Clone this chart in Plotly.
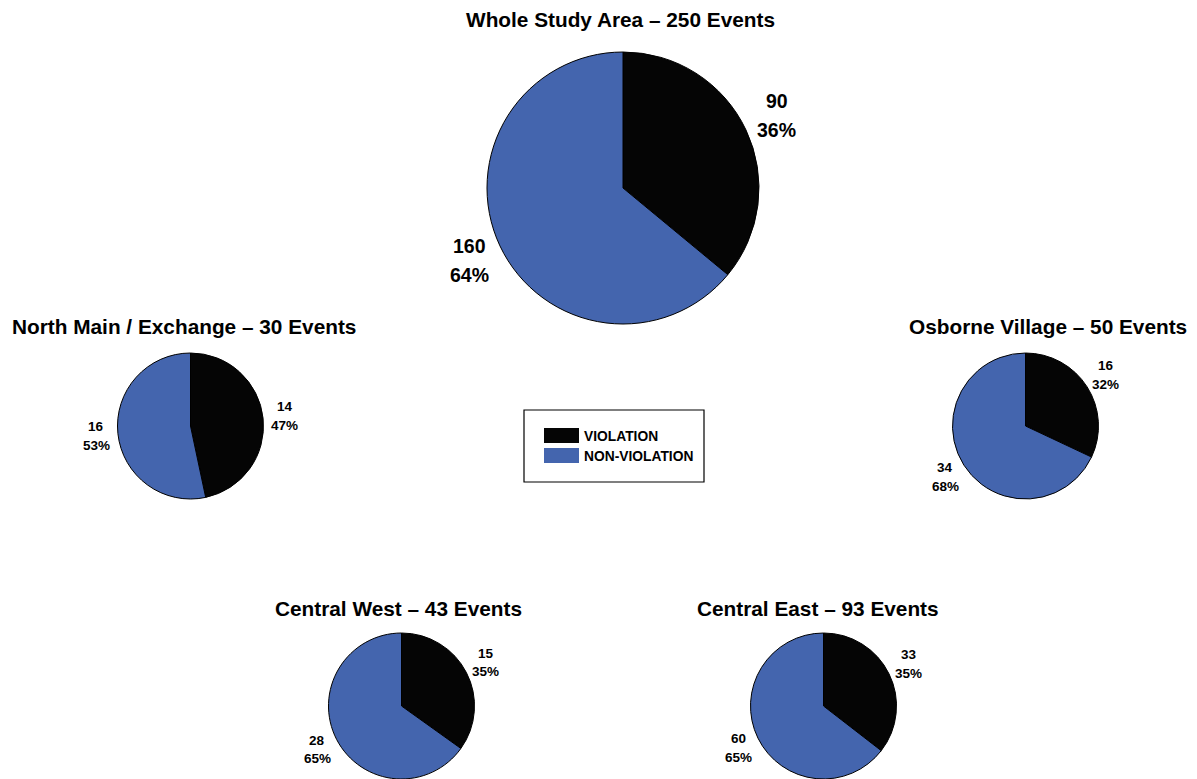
import math
import plotly.graph_objects as go

# Event counts by area
areas = ["Whole Study Area", "North Main / Exchange", "Osborne Village",
         "Central West", "Central East"]
violation = [90, 14, 16, 15, 33]
non_violation = [160, 16, 34, 28, 60]
categories = ["VIOLATION", "NON-VIOLATION"]

# Page geometry (pixels)
W, H = 1197, 779
pie_centers = [(623, 188), (190.5, 426), (1025.5, 426), (401.5, 706), (823.5, 706)]
pie_radii = [136, 73, 73, 73, 73]
title_pos = [(620, 19), (184, 326), (1048, 326), (398, 608), (818, 608)]
title_size = [20.8, 20.8, 20.8, 20.8, 20.8]
label_size = [19.5, 13.5, 13.5, 13.5, 13.5]
label_gap = [29, 18.5, 18.5, 18.5, 18.5]
label_k = [1.25, 1.30, 1.30, 1.30, 1.30]

COLORS = ["#050505", "#4465AE"]
FONT = "Liberation Sans, Arial, Helvetica, sans-serif"


def px(x):
    return x / W


def py(y):
    return 1 - y / H


fig = go.Figure()
annotations = []

for i, area in enumerate(areas):
    vals = [violation[i], non_violation[i]]
    total = sum(vals)
    cx, cy = pie_centers[i]
    r = pie_radii[i]
    fig.add_trace(go.Pie(
        labels=categories,
        values=vals,
        sort=False,
        direction="clockwise",
        rotation=0,
        marker=dict(colors=COLORS, line=dict(color="#000000", width=1)),
        textinfo="none",
        hoverinfo="label+value+percent",
        showlegend=False,
        domain=dict(x=[px(cx - r), px(cx + r)], y=[py(cy + r), py(cy - r)]),
    ))

    annotations.append(dict(
        x=px(title_pos[i][0]), y=py(title_pos[i][1]), xref="paper", yref="paper",
        text=f"{area} – {total} Events", showarrow=False,
        xanchor="center", yanchor="middle",
        font=dict(family=FONT, size=title_size[i], color="#000000", weight="bold"),
    ))

    # value / percent labels placed outside each slice at its mid-angle
    cum = 0
    pcts = [round(100 * v / total) for v in vals]
    for v, p in zip(vals, pcts):
        mid = (cum + v / 2) / total
        cum += v
        theta = 2 * math.pi * mid
        lx = cx + label_k[i] * r * math.sin(theta)
        ly = cy - label_k[i] * r * math.cos(theta)
        for txt, dy in ((str(v), -label_gap[i] / 2), (f"{p}%", label_gap[i] / 2)):
            annotations.append(dict(
                x=px(lx), y=py(ly + dy), xref="paper", yref="paper",
                text=txt, showarrow=False, xanchor="center", yanchor="middle",
                font=dict(family=FONT, size=label_size[i], color="#000000",
                          weight="bold"),
            ))

# Legend box
shapes = [dict(type="rect", xref="paper", yref="paper",
               x0=px(524), x1=px(704), y0=py(482), y1=py(410),
               line=dict(color="#000000", width=1.2), fillcolor="rgba(0,0,0,0)")]
for j, (cat, col) in enumerate(zip(categories, COLORS)):
    y0 = 428 + 20 * j
    shapes.append(dict(type="rect", xref="paper", yref="paper",
                       x0=px(544), x1=px(579), y0=py(y0 + 15), y1=py(y0),
                       line=dict(width=0), fillcolor=col))
    annotations.append(dict(
        x=px(582), y=py(y0 + 8.5), xref="paper", yref="paper", text=cat,
        showarrow=False, xanchor="left", yanchor="middle",
        font=dict(family=FONT, size=13.8, color="#000000", weight="bold"),
    ))

fig.update_layout(
    width=W, height=H,
    margin=dict(l=0, r=0, t=0, b=0),
    paper_bgcolor="#ffffff",
    plot_bgcolor="#ffffff",
    annotations=annotations,
    shapes=shapes,
    showlegend=False,
)

fig.write_html("out.html")
